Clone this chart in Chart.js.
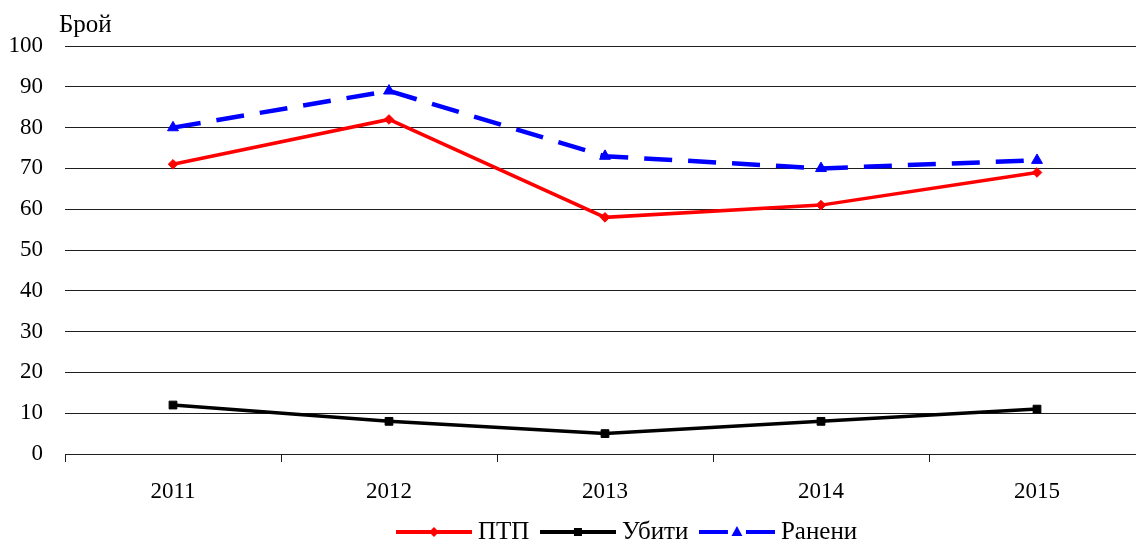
<!DOCTYPE html>
<html><head><meta charset="utf-8">
<script src="https://cdn.jsdelivr.net/npm/chart.js@4/dist/chart.umd.min.js"></script>
<style>
html,body{margin:0;padding:0;background:#fff;overflow:hidden;}
#wrap{width:1160px;height:541px;position:relative;}
canvas{display:block;}
</style></head><body>
<div id="wrap"><canvas id="c" width="1160" height="541" style="width:1160px;height:541px"></canvas></div>
<script>
// ---- data ----
const years = ['2011', '2012', '2013', '2014', '2015'];
const ptp = [71, 82, 58, 61, 69];
const ubiti = [12, 8, 5, 8, 11];
const raneni = [80, 89, 73, 70, 72];
const seriesNames = ['ПТП', 'Убити', 'Ранени'];
const yAxisLabel = 'Брой';
const yMin = 0, yMax = 100, yStep = 10;

// ---- styles ----
const FONT = '"Liberation Serif", "Times New Roman", serif';
const GRID = '#1e1e1e';
const colors = ['#ff0000', '#000000', '#0000ff'];
const LEG_PAD = 17, LEG_FONT = 25, LEG_BOX = 63;
const PLOT_RIGHT = 1145;

function makeIcon(color, marker, dashed) {
  const cv = document.createElement('canvas');
  cv.width = 76; cv.height = 14;
  const c = cv.getContext('2d');
  c.strokeStyle = color; c.fillStyle = color; c.lineWidth = 4;
  c.beginPath();
  if (dashed) {
    c.moveTo(0, 7); c.lineTo(29, 7); c.moveTo(47, 7); c.lineTo(76, 7);
  } else {
    c.moveTo(0, 7); c.lineTo(76, 7);
  }
  c.stroke();
  c.beginPath();
  if (marker === 'diamond') {
    c.moveTo(38, 2); c.lineTo(43, 7); c.lineTo(38, 12); c.lineTo(33, 7); c.closePath(); c.fill();
  } else if (marker === 'square') {
    c.fillRect(34, 3, 8, 8);
  } else {
    c.moveTo(38, 1); c.lineTo(43.5, 11); c.lineTo(32.5, 11); c.closePath(); c.fill();
  }
  return cv;
}
const icons = [makeIcon(colors[0], 'diamond', false), makeIcon(colors[1], 'square', false), makeIcon(colors[2], 'triangle', true)];

const placeBoxes = {
  id: 'placeBoxes',
  afterLayout(chart) {
    // plot area spans x 65..1145 as in the reference
    const ca = chart.chartArea;
    ca.right = PLOT_RIGHT; ca.width = PLOT_RIGHT - ca.left;
    const x = chart.scales.x;
    x.right = PLOT_RIGHT; x.width = PLOT_RIGHT - x.left; x.configure();
    const lg = chart.legend;
    if (lg && lg.lineWidths) {
      const firstBoxX = 396 + (76 - LEG_BOX) / 2;
      const targetSum = 2 * firstBoxX - LEG_PAD + lg.lineWidths[0];
      const dx = (targetSum - (lg.left + lg.right)) / 2;
      lg.left += dx; lg.right += dx;
      lg.top = 532 - LEG_PAD - LEG_FONT / 2;
      lg.bottom = chart.height + 20;
      lg.height = lg.bottom - lg.top;
    }
  }
};
const yTitle = {
  id: 'yTitle',
  afterDraw(chart) {
    const ctx = chart.ctx;
    ctx.save();
    ctx.font = '25px ' + FONT;
    ctx.fillStyle = '#000';
    ctx.textAlign = 'left';
    ctx.textBaseline = 'alphabetic';
    ctx.fillText(yAxisLabel, 59, 32);
    ctx.restore();
  }
};

new Chart(document.getElementById('c'), {
  type: 'line',
  data: {
    labels: years,
    datasets: [
      { label: seriesNames[0], data: ptp, borderColor: colors[0], backgroundColor: colors[0], borderWidth: 3.5,
        pointStyle: 'rectRot', pointRadius: 4.8, pointBorderWidth: 1, tension: 0 },
      { label: seriesNames[1], data: ubiti, borderColor: colors[1], backgroundColor: colors[1], borderWidth: 3.5,
        pointStyle: 'rect', pointRadius: 5.5, pointBorderWidth: 1, tension: 0 },
      { label: seriesNames[2], data: raneni, borderColor: colors[2], backgroundColor: colors[2], borderWidth: 4.5,
        borderDash: [28, 16], pointStyle: 'triangle', pointRadius: 6.3, pointBorderWidth: 1, tension: 0 }
    ]
  },
  options: {
    responsive: false,
    animation: false,
    layout: { padding: { top: 46, left: 0, right: 15, bottom: 0 } },
    plugins: {
      tooltip: { enabled: false },
      title: { display: false },
      legend: {
        position: 'bottom',
        maxHeight: 33,
        labels: {
          usePointStyle: true,
          pointStyleWidth: LEG_BOX,
          boxHeight: 14,
          padding: LEG_PAD,
          color: '#000',
          font: { family: FONT, size: LEG_FONT },
          generateLabels(chart) {
            const items = Chart.defaults.plugins.legend.labels.generateLabels(chart);
            items.forEach((it, i) => { it.pointStyle = icons[i]; it.lineWidth = 0; });
            return items;
          }
        }
      }
    },
    scales: {
      x: {
        offset: true,
        afterFit(scale) { scale.height = 54; scale.paddingLeft = 0; scale.paddingRight = 0; },
        grid: { offset: true, drawOnChartArea: false, drawTicks: true, tickLength: 8, color: GRID, lineWidth: 1 },
        border: { display: true, color: GRID, width: 1 },
        ticks: { color: '#000', font: { family: FONT, size: 23 }, padding: 16, maxRotation: 0 }
      },
      y: {
        min: yMin, max: yMax,
        afterFit(scale) { scale.width = 65; },
        grid: { drawTicks: false, color: GRID, lineWidth: 1 },
        border: { display: false },
        ticks: { stepSize: yStep, color: '#000', font: { family: FONT, size: 23 }, padding: 22 }
      }
    }
  },
  plugins: [placeBoxes, yTitle]
});
</script>
</body></html>
